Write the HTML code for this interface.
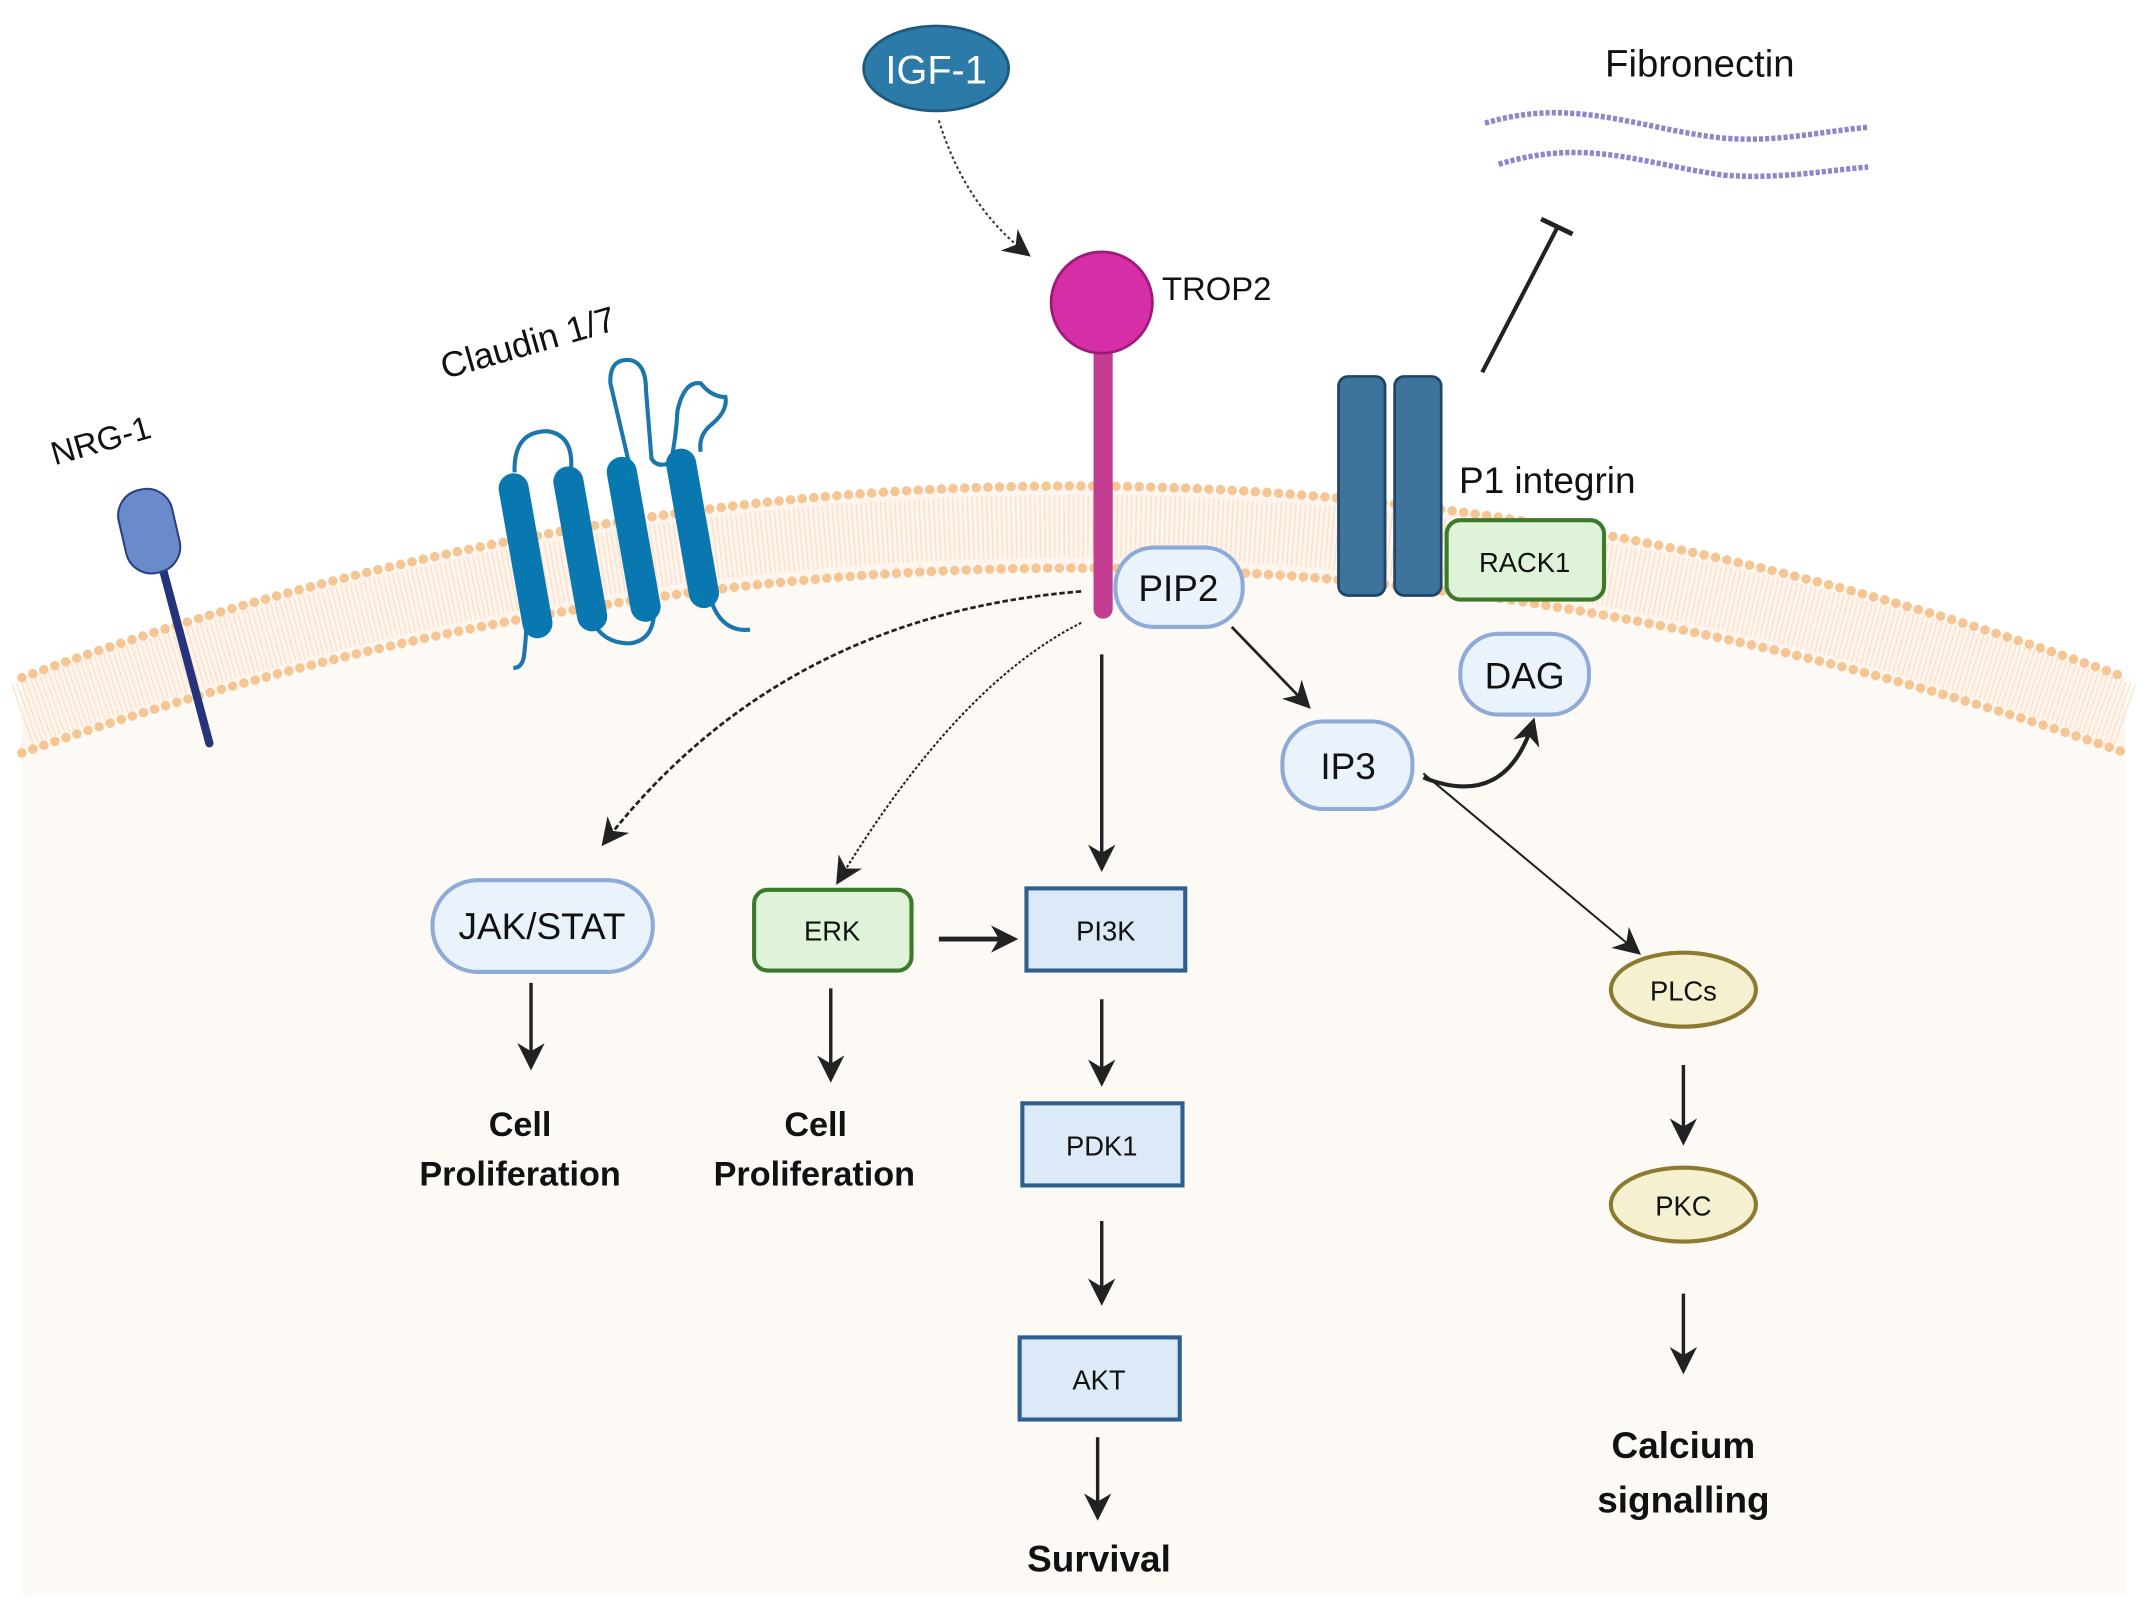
<!DOCTYPE html>
<html><head><meta charset="utf-8"><style>
html,body{margin:0;padding:0;background:#fff;}
svg{display:block;}
text{font-family:"Liberation Sans",sans-serif;fill:#111;}
</style></head><body>
<svg width="2146" height="1618" viewBox="0 0 1568 1182" preserveAspectRatio="none" xmlns="http://www.w3.org/2000/svg">
<defs>
<marker id="ah" viewBox="0 0 10 10" refX="8" refY="5" markerWidth="5" markerHeight="5" orient="auto-start-reverse" markerUnits="userSpaceOnUse">
<path d="M0,0 L10,5 L0,10 L3,5 Z" fill="#222"/></marker>
<marker id="ahb" viewBox="0 0 10 10" refX="8" refY="5" markerWidth="20" markerHeight="20" orient="auto" markerUnits="userSpaceOnUse">
<path d="M0,0 L10,5 L0,10 L3,5 Z" fill="#222"/></marker>
</defs>
<rect width="1568" height="1182" fill="#fff"/>
<!-- cell interior -->
<path d="M16,550 Q784,280 1553,550 L1553,1165 L16,1165 Z" fill="#fdf9f5"/>
<!-- membrane band -->
<path d="M16,495 Q784,215 1553,495 L1553,550 Q784,280 16,550 Z" fill="#fef6ee"/>
<path d="M16,522 Q784,247 1553,522" fill="none" stroke="#f8dcc0" stroke-width="46" stroke-dasharray="1.2 2.3" opacity="0.7"/>
<path d="M16,495 Q784,215 1553,495" fill="none" stroke="#f5c593" stroke-width="7" stroke-dasharray="0 8.5" stroke-linecap="round"/>
<path d="M16,550 Q784,280 1553,550" fill="none" stroke="#f5c593" stroke-width="7" stroke-dasharray="0 8.5" stroke-linecap="round"/>

<!-- IGF-1 -->
<ellipse cx="684" cy="50" rx="53" ry="31" fill="#2b7aa8" stroke="#1d5a80" stroke-width="2"/>
<text x="684" y="61" font-size="29" text-anchor="middle" style="fill:#fff">IGF-1</text>
<path d="M686,88 Q705,150 750,185" fill="none" stroke="#333" stroke-width="1.5" stroke-dasharray="2 2" marker-end="url(#ahb)"/>

<!-- Fibronectin -->
<text x="1242" y="56" font-size="28" text-anchor="middle">Fibronectin</text>
<path d="M1085,90 C1150,70 1200,95 1260,101 C1300,104 1330,96 1365,93" fill="none" stroke="#8e86c8" stroke-width="4" stroke-dasharray="3 1.5"/>
<path d="M1095,120 C1160,100 1200,120 1260,128 C1300,131 1330,125 1365,122" fill="none" stroke="#8e86c8" stroke-width="4" stroke-dasharray="3 1.5"/>
<!-- inhibition -->
<line x1="1083" y1="272" x2="1138" y2="166" stroke="#222" stroke-width="3"/>
<line x1="1126" y1="160" x2="1149" y2="171" stroke="#222" stroke-width="3.5"/>

<!-- TROP2 -->
<rect x="799" y="252" width="14" height="200" rx="7" fill="#c33d92"/>
<circle cx="805" cy="221" r="37" fill="#d62ea6" stroke="#9e1a78" stroke-width="2"/>
<text x="849" y="219" font-size="24">TROP2</text>

<!-- NRG-1 -->
<text x="40" y="340" font-size="24" transform="rotate(-16 40 340)">NRG-1</text>
<line x1="118" y1="412" x2="153" y2="543" stroke="#25337a" stroke-width="6" stroke-linecap="round"/>
<rect x="89" y="357" width="40" height="62" rx="19" fill="#6a8bc9" stroke="#2b3f85" stroke-width="1.5" transform="rotate(-13 109 388)"/>

<!-- Claudin -->
<text x="325" y="277" font-size="26" transform="rotate(-16 325 277)">Claudin 1/7</text>
<g fill="none" stroke="#1a76ac" stroke-width="3">
<path d="M383,478 Q385,460 384,458 M383,478 Q382,488 375,488"/>
<path d="M376,345 Q375,315 400,315 Q420,318 417,345"/>
<path d="M432,452 Q440,470 460,470 Q478,468 478,445"/>
<path d="M460,340 L446,280 Q445,262 460,263 Q472,265 472,285 L476,335 Q480,342 490,338 Q494,320 495,300 Q500,278 512,280 Q520,290 530,290 Q532,300 520,310 Q510,318 512,330"/>
<path d="M520,440 Q528,462 548,460"/>
</g>
<g fill="#0a78b0">
<rect x="373" y="345" width="22" height="122" rx="11" transform="rotate(-10 384 406)"/>
<rect x="413" y="340" width="22" height="122" rx="11" transform="rotate(-10 424 401)"/>
<rect x="452" y="333" width="22" height="122" rx="11" transform="rotate(-10 463 394)"/>
<rect x="495" y="327" width="22" height="118" rx="11" transform="rotate(-10 506 386)"/>
</g>

<!-- integrin -->
<rect x="978" y="275" width="34" height="160" rx="7" fill="#3e739c" stroke="#1f4567" stroke-width="2"/>
<rect x="1019" y="275" width="34" height="160" rx="7" fill="#3e739c" stroke="#1f4567" stroke-width="2"/>
<text x="1066" y="360" font-size="27">P1 integrin</text>
<rect x="1057" y="380" width="115" height="58" rx="10" fill="#dff3d8" stroke="#3b7a2a" stroke-width="3"/>
<text x="1114" y="418" font-size="20" text-anchor="middle">RACK1</text>

<!-- PIP2, DAG, IP3 -->
<rect x="815" y="400" width="93" height="58" rx="28" fill="#eaf2fc" stroke="#8eaad6" stroke-width="3"/>
<text x="861" y="439" font-size="27" text-anchor="middle">PIP2</text>
<rect x="1067" y="463" width="94" height="59" rx="28" fill="#eaf2fc" stroke="#8eaad6" stroke-width="3"/>
<text x="1114" y="503" font-size="27" text-anchor="middle">DAG</text>
<rect x="937" y="527" width="95" height="64" rx="30" fill="#eaf2fc" stroke="#8eaad6" stroke-width="3"/>
<text x="985" y="569" font-size="27" text-anchor="middle">IP3</text>

<line x1="900" y1="458" x2="955" y2="515" stroke="#222" stroke-width="2" marker-end="url(#ahb)"/>
<path d="M1040,568 Q1100,592 1120,528" fill="none" stroke="#222" stroke-width="3" marker-end="url(#ahb)"/>
<line x1="1040" y1="565" x2="1196" y2="695" stroke="#222" stroke-width="1.5" marker-end="url(#ahb)"/>

<!-- PLCs/PKC -->
<ellipse cx="1230" cy="723" rx="53" ry="27" fill="#f5f1d0" stroke="#8c7a30" stroke-width="3"/>
<text x="1230" y="731" font-size="20" text-anchor="middle">PLCs</text>
<line x1="1230" y1="778" x2="1230" y2="833" stroke="#222" stroke-width="2.5" marker-end="url(#ahb)"/>
<ellipse cx="1230" cy="880" rx="53" ry="27" fill="#f5f1d0" stroke="#8c7a30" stroke-width="3"/>
<text x="1230" y="888" font-size="20" text-anchor="middle">PKC</text>
<line x1="1230" y1="945" x2="1230" y2="1000" stroke="#222" stroke-width="2.5" marker-end="url(#ahb)"/>
<text x="1230" y="1065" font-size="27" font-weight="bold" text-anchor="middle">Calcium</text>
<text x="1230" y="1105" font-size="27" font-weight="bold" text-anchor="middle">signalling</text>

<!-- from TROP2 -->
<path d="M790,432 Q570,450 442,615" fill="none" stroke="#222" stroke-width="2" stroke-dasharray="4 2" marker-end="url(#ahb)"/>
<path d="M790,455 Q700,500 613,643" fill="none" stroke="#222" stroke-width="1.5" stroke-dasharray="2 1.5" marker-end="url(#ahb)"/>
<line x1="805" y1="478" x2="805" y2="633" stroke="#222" stroke-width="2.5" marker-end="url(#ahb)"/>

<!-- JAK/STAT -->
<rect x="316" y="643" width="161" height="67" rx="33" fill="#eaf2fc" stroke="#8eaad6" stroke-width="3"/>
<text x="396" y="686" font-size="27" text-anchor="middle">JAK/STAT</text>
<line x1="388" y1="718" x2="388" y2="778" stroke="#222" stroke-width="2.5" marker-end="url(#ahb)"/>
<text x="380" y="830" font-size="25" font-weight="bold" text-anchor="middle">Cell</text>
<text x="380" y="866" font-size="25" font-weight="bold" text-anchor="middle">Proliferation</text>

<!-- ERK -->
<rect x="551" y="650" width="115" height="59" rx="10" fill="#dff3d8" stroke="#3b7a2a" stroke-width="3"/>
<text x="608" y="687" font-size="20" text-anchor="middle">ERK</text>
<line x1="607" y1="722" x2="607" y2="787" stroke="#222" stroke-width="2.5" marker-end="url(#ahb)"/>
<text x="596" y="830" font-size="25" font-weight="bold" text-anchor="middle">Cell</text>
<text x="595" y="866" font-size="25" font-weight="bold" text-anchor="middle">Proliferation</text>
<line x1="686" y1="686" x2="740" y2="686" stroke="#222" stroke-width="3.5" marker-end="url(#ahb)"/>

<!-- PI3K chain -->
<rect x="750" y="649" width="116" height="60" fill="#dce9f7" stroke="#2f5f8e" stroke-width="3"/>
<text x="808" y="687" font-size="20" text-anchor="middle">PI3K</text>
<line x1="805" y1="730" x2="805" y2="790" stroke="#222" stroke-width="2.5" marker-end="url(#ahb)"/>
<rect x="747" y="806" width="117" height="60" fill="#dce9f7" stroke="#2f5f8e" stroke-width="3"/>
<text x="805" y="844" font-size="20" text-anchor="middle">PDK1</text>
<line x1="805" y1="892" x2="805" y2="950" stroke="#222" stroke-width="2.5" marker-end="url(#ahb)"/>
<rect x="745" y="977" width="117" height="60" fill="#dce9f7" stroke="#2f5f8e" stroke-width="3"/>
<text x="803" y="1015" font-size="20" text-anchor="middle">AKT</text>
<line x1="802" y1="1050" x2="802" y2="1107" stroke="#222" stroke-width="2.5" marker-end="url(#ahb)"/>
<text x="803" y="1148" font-size="27" font-weight="bold" text-anchor="middle">Survival</text>
</svg>
</body></html>
